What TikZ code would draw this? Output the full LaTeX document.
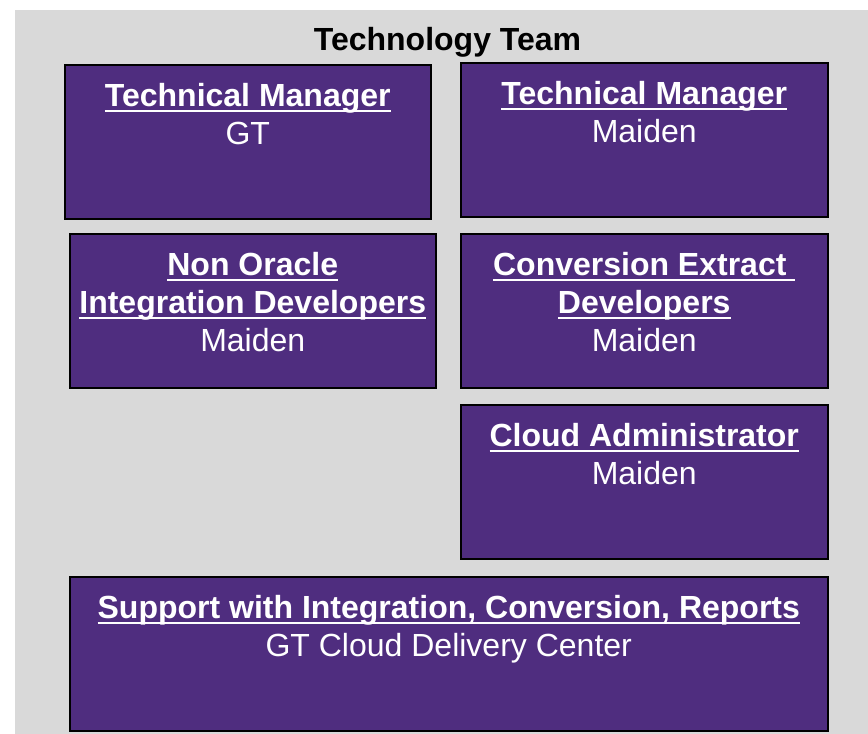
\documentclass[tikz,border=0pt]{standalone}
\usepackage{fontspec}
\setmainfont{Liberation Sans}
\usepackage{tikz}
\usetikzlibrary{positioning}
\definecolor{gtpurple}{HTML}{4F2D7F}
\definecolor{panelgray}{HTML}{D9D9D9}
% bold role name, underline a little below the baseline as in the slide
\newsavebox{\rolebox}
\newcommand{\rolename}[1]{\textbf{\sbox{\rolebox}{#1}\rlap{\vrule height -3.5pt depth 5.5pt width \wd\rolebox}\usebox{\rolebox}}}
\tikzset{
	team chart/.style={
		x=1pt,y=-1pt,
		font=\fontsize{32}{38}\selectfont,
		node distance=19pt
	},
	role box/.style={
		rectangle,
		draw=black,
		fill=gtpurple,
		line width=1.5pt,
		minimum height=154pt,
		inner sep=0pt,
		anchor=north west
	},
	role text/.style={
		align=center,
		inner sep=0pt,
		text=white
	},
	team title/.style={
		font=\fontsize{32}{38}\selectfont\bfseries,
		inner sep=0pt,
		anchor=base
	}
}

\begin{document}
\begin{tikzpicture}[team chart]
	\useasboundingbox (0,0) rectangle (868,734);
	% grey panel
	\fill[panelgray] (15,10) rectangle (868,734);
	\node[team title] (title) at (447.5,50) {Technology Team};
	% boxes
	\node[role box, minimum width=366pt] (tmgt) at (64,64) {};
	\node[role box, minimum width=367pt] (tmmaiden) at (460,62) {};
	\node[role box, minimum width=366pt] (nonoracle) at (69,233) {};
	\node[role box, minimum width=367pt] (conversion) at (460,233) {};
	\node[role box, minimum width=367pt] (cloud) at (460,404) {};
	\node[role box, minimum width=758pt] (support) at (69,576) {};
	% texts
	\node[role text, below=of tmgt.north] (tmgttext) {\rolename{Technical Manager}\\GT};
	\node[role text, below=of tmmaiden.north] (tmmaidentext) {\rolename{Technical Manager}\\Maiden};
	\node[role text, below=of nonoracle.north] (nonoracletext) {\rolename{Non Oracle}\\\rolename{Integration Developers}\\Maiden};
	\node[role text, below=of conversion.north] (conversiontext) {\rolename{Conversion Extract\ }\\\rolename{Developers}\\Maiden};
	\node[role text, below=of cloud.north] (cloudtext) {\rolename{Cloud Administrator}\\Maiden};
	\node[role text, below=of support.north] (supporttext) {\rolename{Support with Integration, Conversion, Reports}\\GT Cloud Delivery Center};
\end{tikzpicture}
\end{document}
